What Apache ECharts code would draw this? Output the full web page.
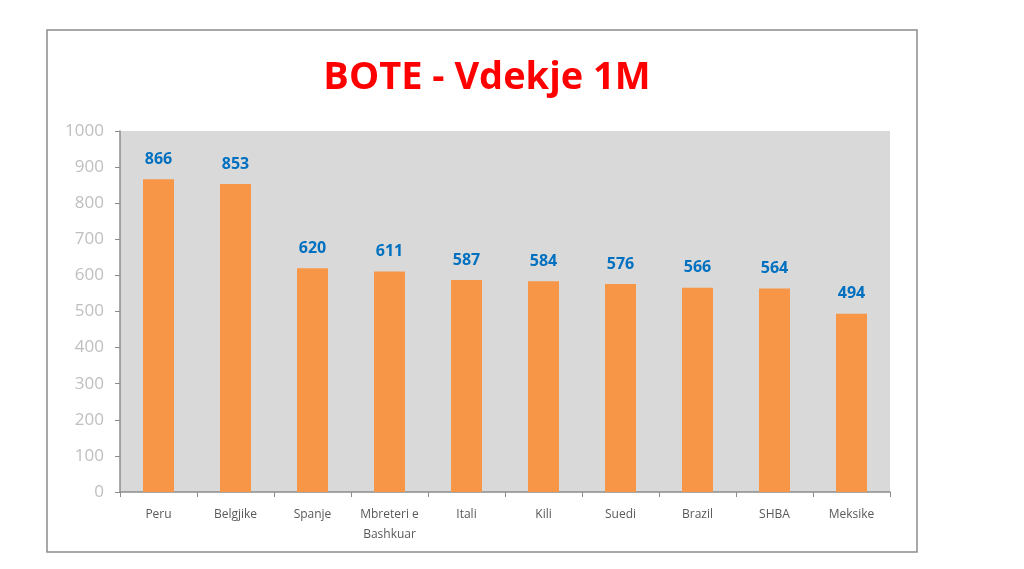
<!DOCTYPE html>
<html>
<head>
<meta charset="utf-8">
<script src="https://cdn.jsdelivr.net/npm/echarts@6/dist/echarts.min.js"></script>
<style>
html, body { margin: 0; padding: 0; background: #fff; }
#chart { width: 1024px; height: 569px; }
</style>
</head>
<body>
<div id="chart"></div>
<script>
var countries = ['Peru', 'Belgjike', 'Spanje', 'Mbreteri e\nBashkuar', 'Itali', 'Kili', 'Suedi', 'Brazil', 'SHBA', 'Meksike'];
var deaths = [866, 853, 620, 611, 587, 584, 576, 566, 564, 494];

var myChart = echarts.init(document.getElementById('chart'));
var option = {
    backgroundColor: '#ffffff',
    textStyle: { fontFamily: 'Open Sans' },
    graphic: [
        {
            type: 'rect',
            shape: { x: 47, y: 30, width: 870, height: 522 },
            style: { fill: 'none', stroke: '#8c8c8c', lineWidth: 1.5 },
            silent: true
        }
    ],
    title: {
        text: 'BOTE - Vdekje 1M',
        left: 482,
        top: 54,
        textAlign: 'center',
        textStyle: { color: '#ff0000', fontSize: 38, fontWeight: 'bold', fontFamily: 'Open Sans' }
    },
    grid: {
        left: 120,
        right: 134,
        top: 131,
        bottom: 77,
        show: true,
        backgroundColor: '#d9d9d9',
        borderWidth: 0
    },
    xAxis: {
        type: 'category',
        data: countries,
        axisLine: { lineStyle: { color: '#8c8c8c', width: 1.5 } },
        axisTick: { show: true, length: 5, lineStyle: { color: '#8c8c8c' } },
        axisLabel: { color: '#595959', fontSize: 12, margin: 13, lineHeight: 20 }
    },
    yAxis: {
        type: 'value',
        min: 0,
        max: 1000,
        interval: 100,
        axisLine: { show: true, lineStyle: { color: '#8c8c8c', width: 1.5 } },
        axisTick: { show: true, length: 5, lineStyle: { color: '#8c8c8c' } },
        splitLine: { show: false },
        axisLabel: {
            color: '#bfbfbf',
            fontSize: 17,
            margin: 16,
            formatter: function (v) { return String(v); }
        }
    },
    series: [
        {
            type: 'bar',
            data: deaths,
            barWidth: 31,
            itemStyle: { color: '#f79646' },
            label: {
                show: true,
                position: 'top',
                distance: 12,
                color: '#0070c0',
                fontSize: 16,
                fontWeight: 'bold'
            }
        }
    ]
};
myChart.setOption(option);
</script>
</body>
</html>
